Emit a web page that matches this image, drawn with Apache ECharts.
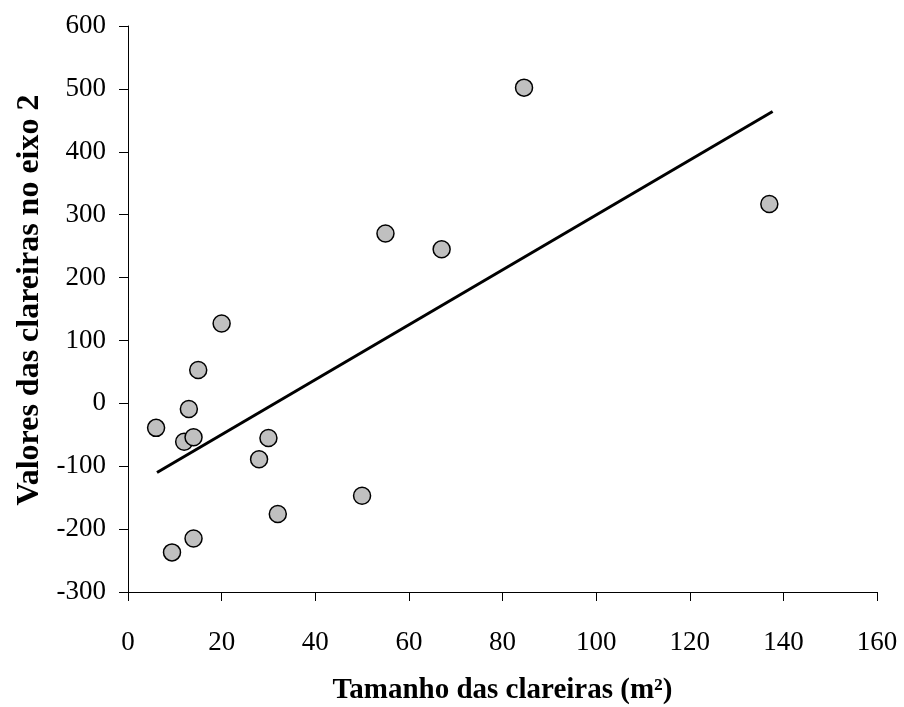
<!DOCTYPE html>
<html>
<head>
<meta charset="utf-8">
<script src="https://cdn.jsdelivr.net/npm/echarts@6/dist/echarts.min.js"></script>
<style>html,body{margin:0;padding:0;background:#fff;}#c{width:904px;height:707px;}</style>
</head>
<body>
<div id="c"></div>
<script>
const gapSize = [6, 13, 12, 14, 9.4, 14, 20, 15, 28, 30, 32, 50, 55, 67, 84.6, 137];
const axisValue = [-39, -9, -61, -54, -237, -215, 127, 53, -89, -55, -176, -147, 270, 245, 502, 317];
const trendX = [6.2, 137.7];
const trendY = [-110, 464];
const xTicks = [0, 20, 40, 60, 80, 100, 120, 140, 160];
const yTicks = [-300, -200, -100, 0, 100, 200, 300, 400, 500, 600];
const xTitle = 'Tamanho das clareiras (m²)';
const yTitle = 'Valores das clareiras no eixo 2';

const chart = echarts.init(document.getElementById('c'), null, {renderer: 'canvas'});
const font = 'Liberation Serif';
chart.setOption({
  animation: false,
  backgroundColor: '#fff',
  grid: {left: 128, right: 27, top: 26, bottom: 115, containLabel: false, outerBoundsMode: 'none'},
  xAxis: {
    type: 'value', min: xTicks[0], max: xTicks[xTicks.length - 1], interval: 20,
    name: xTitle, nameLocation: 'middle', nameGap: 84,
    nameTextStyle: {fontFamily: font, fontWeight: 'bold', fontSize: 29, color: '#000'},
    axisLine: {show: true, onZero: false, lineStyle: {color: '#000', width: 1}},
    axisTick: {show: true, length: 9, inside: false, lineStyle: {color: '#000'}},
    axisLabel: {fontFamily: font, fontSize: 27, color: '#000', margin: 37},
    splitLine: {show: false}
  },
  yAxis: {
    type: 'value', min: yTicks[0], max: yTicks[yTicks.length - 1], interval: 100,
    name: yTitle, nameLocation: 'middle', nameGap: 82, nameRotate: 90,
    nameTextStyle: {fontFamily: font, fontWeight: 'bold', fontSize: 32, color: '#000', padding: [0, 0, 0, 18]},
    axisLine: {show: true, onZero: false, lineStyle: {color: '#000', width: 1}},
    axisTick: {show: true, length: 9, inside: false, lineStyle: {color: '#000'}},
    axisLabel: {fontFamily: font, fontSize: 27, color: '#000', margin: 22},
    splitLine: {show: false}
  },
  series: [
    {
      type: 'line',
      data: trendX.map((x, i) => [x, trendY[i]]),
      symbol: 'none',
      lineStyle: {color: '#000', width: 3},
      z: 2
    },
    {
      type: 'scatter',
      data: gapSize.map((x, i) => [x, axisValue[i]]),
      symbol: 'circle',
      symbolSize: 17,
      itemStyle: {color: '#c0c0c0', borderColor: '#000', borderWidth: 1.5, opacity: 1},
      z: 3
    }
  ]
});
</script>
</body>
</html>
